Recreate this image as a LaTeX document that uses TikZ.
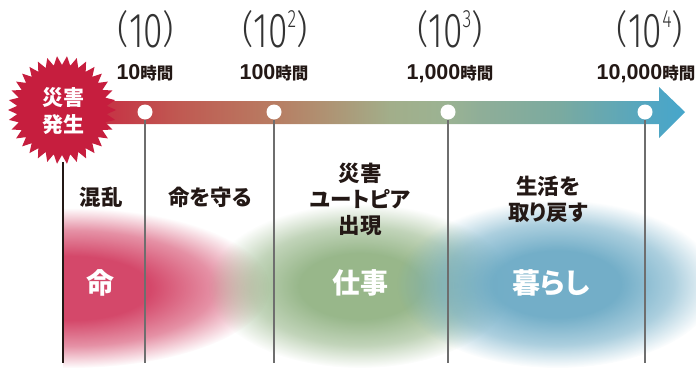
\documentclass[tikz,border=0pt]{standalone}
\usepackage{fontspec}
\usepackage{graphicx}
\setmainfont{Liberation Sans}
\newfontfamily\jp{Noto Sans CJK JP}[RawFeature={+palt}]
\newfontfamily\numf{Liberation Sans}
\newfontfamily\thinf{Fira Sans Light}
\usetikzlibrary{fadings}
\definecolor{ink}{HTML}{231815}
\definecolor{thingray}{HTML}{333333}
\definecolor{burstred}{HTML}{C61E3E}
\definecolor{blobred}{HTML}{D4486A}
\definecolor{blobgreen}{HTML}{92B384}
\definecolor{blobblue}{HTML}{6CAAC5}
\definecolor{tickgray}{HTML}{6E6E6E}
\definecolor{ca}{HTML}{C62340}
\definecolor{cb}{HTML}{C53A47}
\definecolor{cc}{HTML}{C05A52}
\definecolor{cd}{HTML}{B87C62}
\definecolor{ce}{HTML}{AE9474}
\definecolor{cf}{HTML}{A2AE8A}
\definecolor{cg}{HTML}{9BB393}
\definecolor{ch}{HTML}{8FAE98}
\definecolor{ci}{HTML}{7AAAA0}
\definecolor{cj}{HTML}{52A6C2}
\definecolor{ck}{HTML}{46A6CB}
\pgfdeclarehorizontalshading{arrowgrad}{100bp}{color(0bp)=(ca); color(25bp)=(ca); color(29.8bp)=(cb); color(34.6bp)=(cc); color(42bp)=(cd); color(46.6bp)=(ce); color(51.4bp)=(cf); color(56bp)=(cg); color(58.6bp)=(ch); color(65bp)=(ci); color(72.2bp)=(cj); color(75bp)=(ck); color(100bp)=(ck)}
\pgfdeclareradialshading{blobshade}{\pgfpoint{0bp}{0bp}}{color(0bp)=(white); color(10bp)=(white); color(18bp)=(white!60!black); color(25bp)=(black); color(50bp)=(black)}
\pgfdeclarefading{blobfade}{\pgfuseshading{blobshade}}
\newcommand\hourlabel[1]{{\numf\bfseries\fontsize{21.5}{20}\selectfont #1}{\jp\bfseries\fontsize{16.5}{16}\selectfont 時間}}
\newcommand\lpar{\raisebox{5pt}{\scalebox{1}[0.78]{(}}}
\newcommand\rpar{\raisebox{5pt}{\scalebox{1}[0.78]{)}}}
\newcommand\powlabel[1]{\scalebox{0.72}[1]{\thinf\fontsize{49}{49}\selectfont \lpar 10#1\rpar}}
\newcommand\supnum[1]{\raisebox{20pt}{\fontsize{25}{25}\selectfont #1}}
\begin{document}
\begin{tikzpicture}[x=1pt,y=-1pt,
  phase/.style={font=\jp\bfseries\fontsize{21.5}{26}\selectfont, text=ink, align=center, inner sep=0pt},
  biglabel/.style={font=\jp\bfseries\fontsize{28}{28}\selectfont, text=white, inner sep=0pt},
  hours/.style={inner sep=0pt, text=ink, anchor=base},
  power/.style={inner sep=0pt, text=thingray, anchor=base},
  dot/.style={circle, fill=white, minimum size=15pt, inner sep=0pt},
  tick/.style={draw=tickgray, line width=1.3pt},
  blob/.style={path fading=blobfade, fit fading=true}]
\useasboundingbox (0,0) rectangle (696,367);
% blobs
\begin{scope}
  \clip (63,180) rectangle (400,367);
  \fill[blobred, blob] (70,288) ellipse [x radius=200, y radius=80];
\end{scope}
\fill[blobgreen, blob, fill opacity=0.95] (360,286) ellipse [x radius=152, y radius=82];
\fill[blobblue, blob, fill opacity=0.95] (557,284) ellipse [x radius=160, y radius=84];
% arrow
\shade[shading=arrowgrad] (60,101) -- (659,101) -- (659,87) -- (685,112) -- (659,138) -- (659,124) -- (60,124) -- cycle;
% ticks
\node[dot] (t1) at (145,112) {};
\node[dot] (t2) at (274,112) {};
\node[dot] (t3) at (448,112) {};
\node[dot] (t4) at (645,112) {};
\coordinate (b0) at (63,363);
\coordinate (b1) at (145,363);
\coordinate (b2) at (274,363);
\coordinate (b3) at (448,363);
\coordinate (b4) at (645,363);
\draw[tick] (t1.south) -- (b1);
\draw[tick] (t2.south) -- (b2);
\draw[tick] (t3.south) -- (b3);
\draw[tick] (t4.south) -- (b4);
% burst
\fill[burstred, shift={(62,110)}] (0:54) \foreach \i in {0,...,33} { -- ({\i*360/34+180/34}:45) -- ({(\i+1)*360/34}:54) } -- cycle;
\node[font=\jp\bfseries\fontsize{21}{27}\selectfont, text=white, align=center, inner sep=0pt] (burst) at (63,111) {災害\\発生};
\coordinate (top0) at (63,162);
\draw[draw=ink, line width=1.2pt] (top0) -- (b0);
% power labels
\node[power] (p1) at (146,47) {\powlabel{}};
\node[power] (p2) at (275,47) {\powlabel{\supnum{2}}};
\node[power] (p3) at (450,47) {\powlabel{\supnum{3}}};
\node[power] (p4) at (650,47) {\powlabel{\supnum{4}}};
% hour labels
\node[hours] (h1) at (145,79.5) {\hourlabel{10}};
\node[hours] (h2) at (274,79.5) {\hourlabel{100}};
\node[hours] (h3) at (450,79.5) {\hourlabel{1,000}};
\node[hours] (h4) at (646,79.5) {\hourlabel{10,000}};
% phase labels
\node[phase] (ph1) at (101,197) {混乱};
\node[phase] (ph2) at (210,197) {命を守る};
\node[phase] (ph3) at (360,199) {災害\\ユートピア\\出現};
\node[phase] (ph4) at (548,199) {生活を\\取り戻す};
% big labels
\node[biglabel] (l1) at (100,283) {命};
\node[biglabel] (l2) at (360,283) {仕事};
\node[biglabel] (l3) at (551,283) {暮らし};
\end{tikzpicture}
\end{document}
